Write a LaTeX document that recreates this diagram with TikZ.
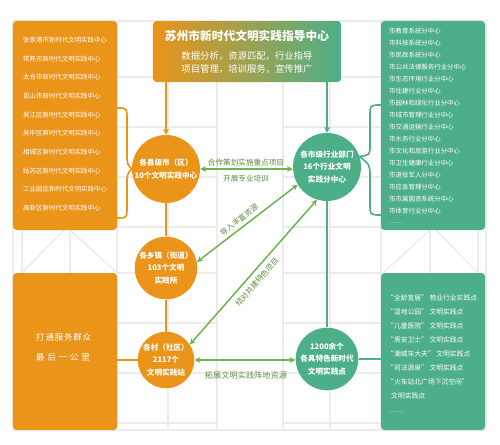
\documentclass[tikz,border=0pt]{standalone}
\usepackage{fontspec}
\setmainfont{Noto Sans CJK SC}
\usetikzlibrary{arrows.meta}
\usepackage{xcolor}
\definecolor{civorange}{RGB}{234,148,26}
\definecolor{civgreen}{RGB}{77,175,136}
\definecolor{linkgreen}{RGB}{112,180,82}
\definecolor{labelgreen}{RGB}{92,138,62}
\definecolor{gridgray}{RGB}{236,236,236}

\begin{document}
\begin{tikzpicture}[x=0.03cm, y=-0.03cm, >={Stealth[length=5pt,width=5pt]},
    gridline/.style={draw=gridgray, line width=1.3pt},
    civline/.style={line width=1.4pt},
    linkarrow/.style={linkgreen, line width=1.3pt, <->},
    box/.style={rounded corners=3pt, inner sep=0pt, minimum width=3.12cm},
    hub/.style={circle, inner sep=0pt, text=white, align=center,
      font=\fontsize{6.5}{11}\selectfont\bfseries},
    listtext/.style={anchor=west, text=white, inner sep=0pt},
    linklabel/.style={text=labelgreen, inner sep=0pt, font=\fontsize{6.5}{8}\selectfont}]
  \useasboundingbox (0,0) rectangle (500,444);
  % background lattice
  \draw[gridline] (13,21) rectangle (486,430);
  \foreach \y in {77,127,177,227,273,323,373,423} {
    \draw[gridline] (117,\y) -- (217,\y);
    \draw[gridline] (283,\y) -- (381,\y);
  }
  \foreach \x in {117,168,217,283,330,381}
    \draw[gridline] (\x,21) -- (\x,430);
  \foreach \x in {22,70,430,478}
    \draw[gridline] (\x,230) -- (\x,273);
  \draw[gridline] (64,230) -- (22,273) (70,230) -- (117,273);
  \draw[gridline] (430,230) -- (383,273) (436,230) -- (478,273);

  % boxes
  \node[box, fill=civorange, minimum height=6.27cm] (cities) at (65,125.5) {};
  \node[box, fill=civgreen, minimum height=6.27cm] (depts) at (433,125.5) {};
  \node[box, fill=civorange, minimum height=4.71cm] (lastmile) at (65,351.5) {};
  \node[box, fill=civgreen, minimum height=4.71cm] (spots) at (433,351.5) {};
  \node[box, left color=civorange, right color=civgreen,
    minimum width=5.64cm, minimum height=1.83cm] (hq) at (247,51.5) {};
  \node[text=white, font=\fontsize{10}{12}\selectfont\bfseries] (hqtitle) at (247,36)
    {苏州市新时代文明实践指导中心};
  \node[text=white, align=center, font=\fontsize{8}{11}\selectfont] (hqduty) at (247,62.5)
    {数据分析，资源匹配，行业指导\\项目管理，培训服务，宣传推广};

  % city-level centres
  \foreach \name [count=\i from 0] in {张家港市新时代文明实践中心, 常熟市新时代文明实践中心,
      太仓市新时代文明实践中心, 昆山市新时代文明实践中心, 吴江区新时代文明实践中心,
      吴中区新时代文明实践中心, 相城区新时代文明实践中心, 姑苏区新时代文明实践中心,
      工业园区新时代文明实践中心, 高新区新时代文明实践中心}
    \node[listtext, font=\fontsize{5.5}{6}\selectfont] (city\i) at (23,40+18.67*\i) {\name};
  % branch centres
  \foreach \name [count=\i from 0] in {市教育系统分中心, 市科技系统分中心, 市民政系统分中心,
      市公共法律服务行业分中心, 市生态环境行业分中心, 市住建行业分中心,
      市园林和绿化行业分中心, 市城市管理行业分中心, 市交通运输行业分中心,
      市水务行业分中心, 市文化和旅游行业分中心, 市卫生健康行业分中心,
      市退役军人分中心, 市应急管理分中心, 市市属国资系统分中心, 市体育行业分中心, ……}
    \node[listtext, font=\fontsize{5.5}{6}\selectfont] (dept\i) at (389,31+12*\i) {\name};
  % practice spots
  \foreach \name [count=\i from 0] in {“全龄宜居” 物业行业实践点, “湿地公园” 文明实践点,
      “儿童医院” 文明实践点, “质安卫士” 文明实践点, “潮城车大夫” 文明实践点,
      “司法源泉” 文明实践点, “火车站北广场下沉空间”}
    \node[listtext, font=\fontsize{5.8}{6}\selectfont] (spot\i) at (387,298+14*\i) {\name};
  \node[listtext, font=\fontsize{5.8}{6}\selectfont] (spot7) at (391,396) {文明实践点};
  \node[listtext, font=\fontsize{5.8}{6}\selectfont] (spot8) at (389,412) {……};

  \node[listtext, font=\fontsize{7.2}{9}\selectfont] (slogan1) at (36,337)
    {\addfontfeature{LetterSpace=10}打通服务群众};
  \node[listtext, font=\fontsize{7.2}{9}\selectfont] (slogan2) at (36,357)
    {\addfontfeature{LetterSpace=34}最后一公里};

  % hubs
  \node[hub, fill=civorange, minimum size=2.04cm] (county) at (166,169)
    {各县级市（区）\\10个文明实践中心};
  \node[hub, fill=civgreen, minimum size=2.04cm] (bureau) at (327,167)
    {各市级行业部门\\16个行业文明\\实践分中心};
  \node[hub, fill=civorange, minimum size=1.86cm] (town) at (166,268)
    {各乡镇（街道）\\103个文明\\实践所};
  \node[hub, fill=civorange, minimum size=1.68cm] (village) at (166,360)
    {各村（社区）\\2117个\\文明实践站};
  \node[hub, fill=civgreen, minimum size=1.77cm] (feature) at (327,359)
    {1200余个\\各具特色新时代\\文明实践点};

  % tree lines
  \draw[civorange, civline, ->] (hq.south -| county.north) -- (county.north);
  \draw[civgreen, civline, ->] (hq.south -| bureau.north) -- (bureau.north);
  \draw[civorange, civline] (county) -- (town) (town) -- (village);
  \draw[civorange, civline] (lastmile.east |- village) -- (village.west);
  \draw[civgreen, civline] (bureau) -- (feature);
  \draw[civgreen, civline] (feature.east) -- (spots.west |- feature);

  % braces
  \coordinate (cityTop) at (117,108);
  \coordinate (cityBot) at (117,218);
  \draw[civorange, civline] (cityTop) .. controls (127,108) .. (127,120) -- (127,152)
    .. controls (127,164) .. (county.west) .. controls (127,174) .. (127,186) -- (127,206)
    .. controls (127,218) .. (cityBot);
  \coordinate (deptTop) at (381,105);
  \coordinate (deptBot) at (381,215);
  \draw[civgreen, civline] (deptTop) .. controls (370,105) .. (370,117) -- (370,145)
    .. controls (370,155) .. (bureau.18) .. controls (370,165) .. (370,177) -- (370,203)
    .. controls (370,215) .. (deptBot);

  % cooperation links
  \draw[linkarrow] (county.east) -- (county.east -| bureau.west);
  \node[linklabel] (coop) at (246,163) {合作策划实施重点项目};
  \node[linklabel] (train) at (246,179) {开展专业培训};
  \draw[linkarrow] (bureau.211) -- (town.11);
  \node[linklabel, rotate=38] (import) at (239,220) {导入丰富资源};
  \draw[linkarrow] (bureau.253) -- (village.33);
  \node[linklabel, rotate=49] (pair) at (257,282) {结对共建特色项目};
  \draw[linkarrow] (village.east) -- (village.east -| feature.west);
  \node[linklabel, font=\fontsize{7}{8}\selectfont] (expand) at (246,375) {拓展文明实践阵地资源};
\end{tikzpicture}
\end{document}
